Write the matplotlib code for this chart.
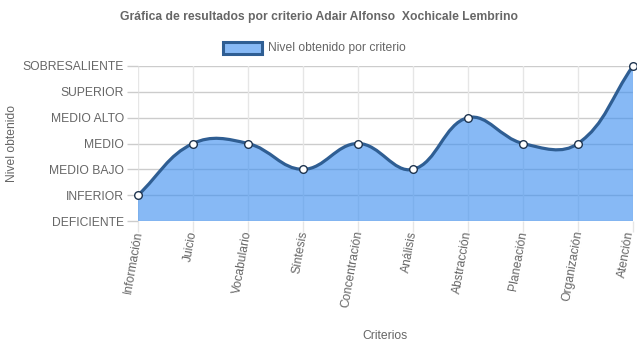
import numpy as np
import matplotlib
matplotlib.use("Agg")
import matplotlib.pyplot as plt
import matplotlib.transforms as mtransforms
from matplotlib.path import Path
from matplotlib.patches import PathPatch, Rectangle

plt.rcParams['font.family'] = ['Liberation Sans', 'DejaVu Sans']

title = "Gráfica de resultados por criterio Adair Alfonso  Xochicale Lembrino"
series_label = "Nivel obtenido por criterio"
criterios = ["Información", "Juicio", "Vocabulario", "Síntesis", "Concentración",
             "Análisis", "Abstracción", "Planeación", "Organización", "Atención"]
niveles = ["DEFICIENTE", "INFERIOR", "MEDIO BAJO", "MEDIO", "MEDIO ALTO",
           "SUPERIOR", "SOBRESALIENTE"]
valores = [1, 3, 3, 2, 3, 2, 4, 3, 3, 6]

TXT = "#666666"
LINE = "#2f5e93"
FILL = (0.24, 0.56, 0.94, 0.62)
FS = 8.7

fig = plt.figure(figsize=(6.37, 3.48), dpi=100)
W, H = 637, 348
ax = fig.add_axes([138 / W, 1 - 221 / H, (633 - 138) / W, (221 - 66) / H])
x = np.arange(len(criterios))
ax.set_xlim(0, len(criterios) - 1)
ax.set_ylim(0, len(niveles) - 1)

# grid
for yv in range(len(niveles)):
    ax.axhline(yv, color="#cccccc", lw=1, zorder=0)
for xv in x:
    ax.axvline(xv, color="#e6e6e6", lw=1, zorder=0)
for s in ax.spines.values():
    s.set_visible(False)

# smooth curve (cardinal spline, tension 0.4) computed in pixel space
fig.canvas.draw()
pts = ax.transData.transform(np.column_stack([x, valores]))
t = 0.4
n = len(pts)
cp_prev = np.zeros_like(pts)
cp_next = np.zeros_like(pts)
for i in range(n):
    p0 = pts[i - 1] if i > 0 else pts[i]
    p1 = pts[i]
    p2 = pts[i + 1] if i < n - 1 else pts[i]
    d01 = np.hypot(*(p1 - p0))
    d12 = np.hypot(*(p2 - p1))
    tot = d01 + d12
    s01 = d01 / tot if tot else 0
    s12 = d12 / tot if tot else 0
    cp_prev[i] = p1 - t * s01 * (p2 - p0)
    cp_next[i] = p1 + t * s12 * (p2 - p0)

verts = [pts[0]]
codes = [Path.MOVETO]
for i in range(n - 1):
    verts += [cp_next[i], cp_prev[i + 1], pts[i + 1]]
    codes += [Path.CURVE4] * 3
inv = ax.transData.inverted()
verts_d = inv.transform(np.array(verts))

line_path = Path(verts_d, codes)
fill_verts = list(verts_d) + [[x[-1], 0], [x[0], 0], verts_d[0]]
fill_codes = codes + [Path.LINETO, Path.LINETO, Path.CLOSEPOLY]
ax.add_patch(PathPatch(Path(fill_verts, fill_codes), facecolor=FILL, edgecolor="none", zorder=1))
ax.add_patch(PathPatch(line_path, facecolor="none", edgecolor=LINE, lw=2.3, zorder=2, capstyle="round"))
ax.plot(x, valores, "o", ms=5.5, mfc="white", mec="#1f3550", mew=1.0, zorder=3, clip_on=False)

# y ticks
ax.set_yticks(range(len(niveles)))
ax.set_yticklabels(niveles, fontsize=FS, color=TXT)
ax.tick_params(axis="y", length=8, width=1, color="#cccccc", pad=2)

# x ticks: rotated category names anchored at their right end under each tick
ax.set_xticks(x)
ax.set_xticklabels([])
ax.tick_params(axis="x", length=8, width=1, color="#e6e6e6")
for i, name in enumerate(criterios):
    dx = -3.0 if i == len(criterios) - 1 else 0.5
    off = mtransforms.ScaledTranslation(dx / 100, -10 / 100, fig.dpi_scale_trans)
    ax.text(x[i], 0, name, transform=ax.get_xaxis_transform() + off,
            fontsize=FS, color=TXT, rotation=80, ha="right", va="center",
            rotation_mode="anchor", clip_on=False)

ax.set_ylabel("Nivel obtenido", fontsize=FS, color=TXT)
ax.yaxis.set_label_coords(-(138 - 18) / 495, 0.5)
fig.text(385 / W, 1 - 336 / H, "Criterios", fontsize=FS, color=TXT, ha="center", va="center")

fig.text(0.5, 1 - 17 / H, title, fontsize=FS, fontweight="bold", color=TXT, ha="center", va="center")

# legend
fig.patches.append(Rectangle((223 / W, 1 - 54 / H), 39 / W, 12 / H, transform=fig.transFigure,
                             facecolor=FILL, edgecolor=LINE, lw=2.2))
fig.text(268 / W, 1 - 48 / H, series_label, fontsize=FS, color=TXT, ha="left", va="center")

fig.savefig("out.png", dpi=100, facecolor="white")
